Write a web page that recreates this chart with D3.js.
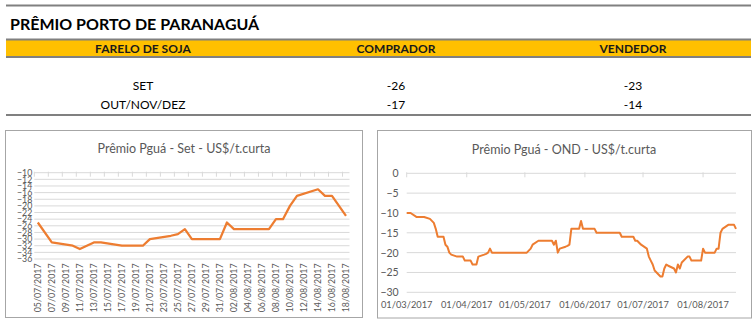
<!DOCTYPE html>
<html>
<head>
<meta charset="utf-8">
<script src="https://cdn.jsdelivr.net/npm/d3@7"></script>
<style>
  html, body { margin: 0; padding: 0; background: #fff; }
  svg { display: block; font-family: Lato, "Open Sans", sans-serif; }
</style>
</head>
<body>
<svg id="chart" width="756" height="323"></svg>
<script>
// ---- Table: Paranaguá port premium, soybean meal ----
const tableTitle = "PRÊMIO PORTO DE PARANAGUÁ";
const tableHeaders = ["FARELO DE SOJA", "COMPRADOR", "VENDEDOR"];
const tableRows = ["SET", "OUT/NOV/DEZ"];
const buyerValues = [-26, -17];
const sellerValues = [-23, -14];

// ---- Chart 1: September contract (US$/short ton) ----
const setTitle = "Prêmio Pguá - Set - US$/t.curta";
const setDates = ["05/07/2017","07/07/2017","10/07/2017","11/07/2017","13/07/2017","14/07/2017",
  "17/07/2017","19/07/2017","20/07/2017","21/07/2017","24/07/2017","25/07/2017","26/07/2017",
  "27/07/2017","28/07/2017","31/07/2017","01/08/2017","02/08/2017","03/08/2017","04/08/2017",
  "07/08/2017","08/08/2017","09/08/2017","10/08/2017","11/08/2017","14/08/2017","15/08/2017",
  "16/08/2017","17/08/2017","18/08/2017"];
const setValues = [-25,-31,-32,-33,-31,-31,
  -32,-32,-32,-30,-29,-28.5,-27,
  -30,-30,-30,-25,-27,-27,-27,
  -27,-24,-24,-20,-17,-15,-17,
  -17,-20,-23];
const setYTicks = [-10,-12,-14,-16,-18,-20,-22,-24,-26,-28,-30,-32,-34,-36];

// ---- Chart 2: Oct/Nov/Dec contract (US$/short ton) ----
const ondTitle = "Prêmio Pguá - OND - US$/t.curta";
const ondDates = ["01/03/2017","03/03/2017","06/03/2017","10/03/2017","13/03/2017","14/03/2017",
  "15/03/2017","16/03/2017","17/03/2017","20/03/2017","21/03/2017","22/03/2017","23/03/2017",
  "24/03/2017","27/03/2017","30/03/2017","31/03/2017","03/04/2017","04/04/2017","06/04/2017",
  "07/04/2017","10/04/2017","11/04/2017","12/04/2017","13/04/2017","14/04/2017","02/05/2017",
  "03/05/2017","04/05/2017","05/05/2017","08/05/2017","15/05/2017","16/05/2017","17/05/2017",
  "18/05/2017","19/05/2017","22/05/2017","23/05/2017","24/05/2017","25/05/2017","29/05/2017",
  "30/05/2017","31/05/2017","06/06/2017","07/06/2017","19/06/2017","20/06/2017","26/06/2017",
  "27/06/2017","28/06/2017","29/06/2017","30/06/2017","03/07/2017","04/07/2017","05/07/2017",
  "06/07/2017","07/07/2017","10/07/2017","11/07/2017","12/07/2017","13/07/2017","14/07/2017",
  "17/07/2017","18/07/2017","19/07/2017","20/07/2017","21/07/2017","24/07/2017","25/07/2017",
  "26/07/2017","31/07/2017","01/08/2017","02/08/2017","07/08/2017","08/08/2017","09/08/2017",
  "10/08/2017","11/08/2017","14/08/2017","17/08/2017","18/08/2017"];
const ondValues = [-10,-10,-11,-11,-11.5,-12,
  -12.5,-14,-16,-16,-18,-18.5,-20,
  -20.5,-21,-21,-22,-22,-23,-23,
  -21,-20.5,-20.3,-20,-19,-20,-20,
  -19.5,-19,-18,-17,-17,-18,-17,
  -20,-19,-18.5,-18.3,-18,-14,-14,
  -12,-14,-14,-15,-15,-16,-16,
  -17,-17,-17.5,-18,-19,-21,-22,
  -23,-24.5,-26,-26,-24,-23,-23.3,
  -24,-25,-23,-24,-22.5,-21,-21,
  -22,-22,-19,-20,-20,-19,-19,
  -15,-14,-13,-13,-14];
const ondYTicks = [0,-5,-10,-15,-20,-25,-30];
const ondXTicks = ["01/03/2017","01/04/2017","01/05/2017","01/06/2017","01/07/2017","01/08/2017"];

const parse = d3.timeParse("%d/%m/%Y");
const fmt = d3.timeFormat("%d/%m/%Y");
const svg = d3.select("#chart");

const GRID = "#d9d9d9", AXIS_TXT = "#595959", LINE = "#ed7d31", BORDER = "#a6a6a6";

// ---------- Table ----------
const tbl = svg.append("g");
const colX = d3.scaleOrdinal().domain([0, 1, 2]).range([143, 396, 633]);
tbl.append("rect").attr("x", 6).attr("y", 4.5).attr("width", 745).attr("height", 2).attr("fill", "#808080");
tbl.append("text").attr("x", 10).attr("y", 29.5)
  .attr("font-size", 16).attr("font-weight", 700).attr("fill", "#000").text(tableTitle);
tbl.append("rect").attr("x", 6).attr("y", 39).attr("width", 745).attr("height", 18).attr("fill", "#ffc000");
tbl.append("rect").attr("x", 6).attr("y", 38.5).attr("width", 745).attr("height", 2).attr("fill", "#808080");
tbl.append("rect").attr("x", 6).attr("y", 56).attr("width", 745).attr("height", 2).attr("fill", "#808080");
tbl.selectAll("text.hdr").data(tableHeaders).join("text").attr("class", "hdr")
  .attr("x", (d, i) => colX(i)).attr("y", 52.5).attr("text-anchor", "middle")
  .attr("font-size", 12).attr("font-weight", 700).attr("fill", "#1a1a1a").text(d => d);
const rowY = d3.scalePoint().domain(tableRows).range([90, 109]);
tableRows.forEach((r, i) => {
  const y = rowY(r);
  [r, buyerValues[i], sellerValues[i]].forEach((v, c) => {
    tbl.append("text").attr("x", colX(c)).attr("y", y).attr("text-anchor", "middle")
      .attr("font-size", 12).attr("fill", "#000").text(v);
  });
});
tbl.append("rect").attr("x", 6).attr("y", 114).attr("width", 745).attr("height", 2).attr("fill", "#808080");

// ---------- Chart 1: Set ----------
{
  const g = svg.append("g");
  g.append("rect").attr("x", 5.5).attr("y", 130.5).attr("width", 357).attr("height", 187)
    .attr("fill", "#fff").attr("stroke", BORDER);
  g.append("text").attr("x", 184).attr("y", 152.5).attr("text-anchor", "middle")
    .attr("font-size", 12.5).attr("fill", AXIS_TXT).text(setTitle);

  const dates = setDates.map(parse);
  const x0 = d3.timeHour.offset(dates[0], -12);
  const x1 = d3.timeHour.offset(dates[dates.length - 1], 12);
  const x = d3.scaleTime().domain([x0, x1]).range([34.3, 349.5]);
  const y = d3.scaleLinear().domain([-36, -10]).range([259, 172.7]);

  g.append("g").selectAll("line").data(setYTicks).join("line")
    .attr("x1", x.range()[0]).attr("x2", x.range()[1])
    .attr("y1", d => y(d)).attr("y2", d => y(d)).attr("stroke", GRID).attr("stroke-width", 1);

  const yAxis = d3.axisLeft(y).tickValues(setYTicks).tickSize(0).tickPadding(2);
  g.append("g").attr("transform", `translate(${x.range()[0]},0)`).call(yAxis)
    .call(a => a.select(".domain").remove())
    .call(a => a.selectAll("text").attr("font-size", 8.8).attr("fill", AXIS_TXT).attr("font-family", "Lato"));

  // category days every two days, ticks at their left boundary
  const labelDays = d3.timeDay.range(dates[0], d3.timeDay.offset(dates[dates.length - 1], 1), 2);
  g.append("g").selectAll("line").data(labelDays).join("line")
    .attr("x1", d => x(d3.timeHour.offset(d, -12))).attr("x2", d => x(d3.timeHour.offset(d, -12)))
    .attr("y1", y(-10) - 1).attr("y2", y(-10) + 4).attr("stroke", GRID);
  g.append("g").selectAll("text").data(labelDays).join("text")
    .attr("transform", d => `translate(${x(d) + 3},263.5) rotate(-90)`)
    .attr("text-anchor", "end").attr("font-size", 8.8).attr("fill", AXIS_TXT).text(fmt);

  const line = d3.line().x(d => x(d[0])).y(d => y(d[1]));
  g.append("path").datum(dates.map((d, i) => [d, setValues[i]]))
    .attr("d", line).attr("fill", "none").attr("stroke", LINE).attr("stroke-width", 2.25)
    .attr("stroke-linejoin", "round");
}

// ---------- Chart 2: OND ----------
{
  const g = svg.append("g");
  g.append("rect").attr("x", 377.5).attr("y", 130.5).attr("width", 374).attr("height", 187.5)
    .attr("fill", "#fff").attr("stroke", BORDER);
  g.append("text").attr("x", 564).attr("y", 153.5).attr("text-anchor", "middle")
    .attr("font-size", 12.5).attr("fill", AXIS_TXT).text(ondTitle);

  const dates = ondDates.map(parse);
  const x = d3.scaleTime().domain([dates[0], dates[dates.length - 1]]).range([406.7, 736]);
  const y = d3.scaleLinear().domain([-30, 0]).range([292.3, 173.3]);

  g.append("g").selectAll("line").data(ondYTicks).join("line")
    .attr("x1", x.range()[0]).attr("x2", x.range()[1])
    .attr("y1", d => y(d)).attr("y2", d => y(d)).attr("stroke", GRID);

  const yAxis = d3.axisLeft(y).tickValues(ondYTicks).tickSize(0).tickPadding(8);
  g.append("g").attr("transform", `translate(${x.range()[0]},0)`).call(yAxis)
    .call(a => a.select(".domain").remove())
    .call(a => a.selectAll("text").attr("font-size", 10.5).attr("fill", AXIS_TXT).attr("font-family", "Lato"));

  const xt = ondXTicks.map(parse);
  g.append("g").selectAll("line").data(xt).join("line")
    .attr("x1", d => x(d)).attr("x2", d => x(d))
    .attr("y1", y(0) - 1).attr("y2", y(0) + 4).attr("stroke", GRID);
  g.append("g").selectAll("text").data(xt).join("text")
    .attr("x", d => x(d)).attr("y", 307.5).attr("text-anchor", "middle")
    .attr("font-size", 9.3).attr("fill", AXIS_TXT).text(fmt);

  const line = d3.line().x(d => x(d[0])).y(d => y(d[1]));
  g.append("path").datum(dates.map((d, i) => [d, ondValues[i]]))
    .attr("d", line).attr("fill", "none").attr("stroke", LINE).attr("stroke-width", 2)
    .attr("stroke-linejoin", "round");
}
</script>
</body>
</html>
